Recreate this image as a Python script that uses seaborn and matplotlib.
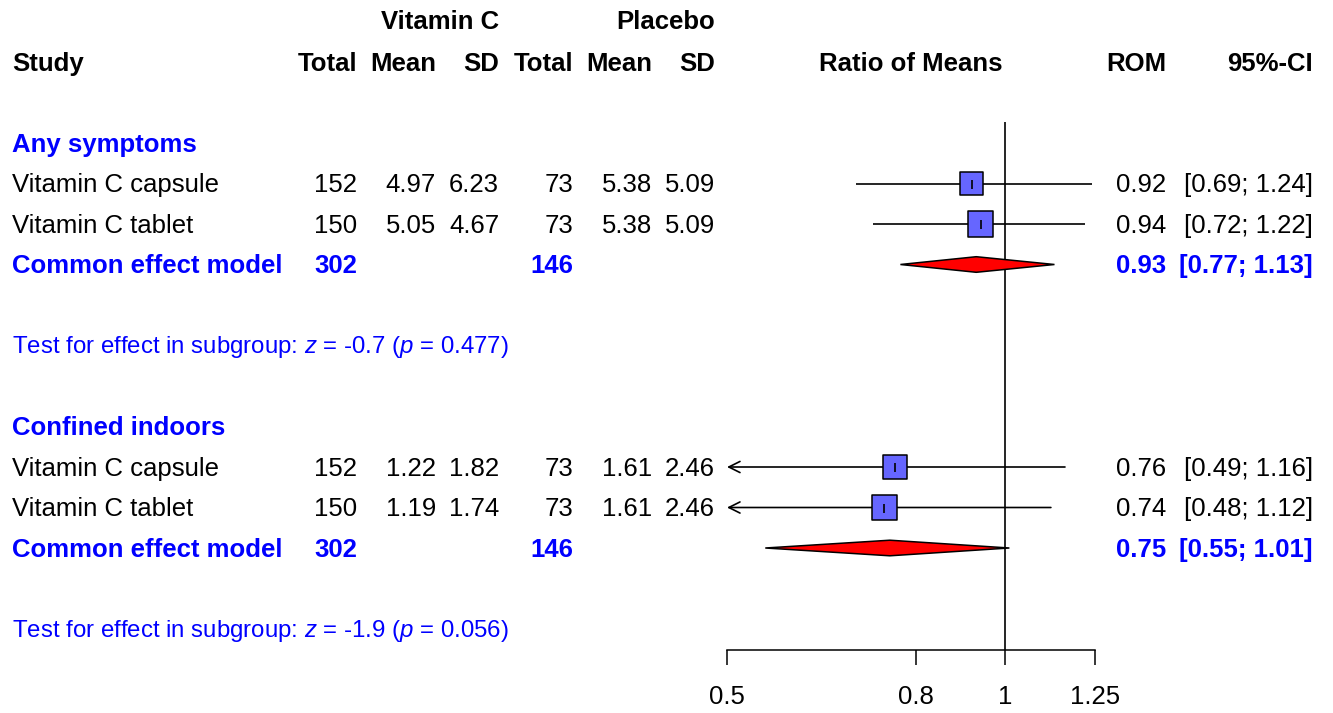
import numpy as np
import pandas as pd
import matplotlib
matplotlib.use("Agg")
import matplotlib.pyplot as plt
import seaborn as sns

# ---------------- data ----------------
groups = ["Any symptoms", "Confined indoors"]
studies = ["Vitamin C capsule", "Vitamin C tablet"]
n_vitc = [[152, 150], [152, 150]]
mean_vitc = [["4.97", "5.05"], ["1.22", "1.19"]]
sd_vitc = [["6.23", "4.67"], ["1.82", "1.74"]]
n_plac = [[73, 73], [73, 73]]
mean_plac = [["5.38", "5.38"], ["1.61", "1.61"]]
sd_plac = [["5.09", "5.09"], ["2.46", "2.46"]]
rom = [[0.92, 0.94], [0.76, 0.74]]
rom_lo = [[0.69, 0.72], [0.49, 0.48]]
rom_hi = [[1.24, 1.22], [1.16, 1.12]]
weights = [[0.46, 0.58], [0.50, 0.54]]
common_n_vitc = [302, 302]
common_n_plac = [146, 146]
common_rom = [0.93, 0.75]
common_lo = [0.77, 0.55]
common_hi = [1.13, 1.01]
test_z = ["-0.7", "-1.9"]
test_p = ["0.477", "0.056"]
x_ticks = [0.5, 0.8, 1, 1.25]
x_tick_labels = ["0.5", "0.8", "1", "1.25"]

# ---------------- style ----------------
sns.set_theme(style="white")
plt.rcParams["font.family"] = ["Liberation Sans", "DejaVu Sans"]
plt.rcParams["mathtext.fontset"] = "custom"
plt.rcParams["mathtext.it"] = "Liberation Sans:italic"
plt.rcParams["mathtext.rm"] = "Liberation Sans"
plt.rcParams["text.color"] = "black"
plt.rcParams["xtick.color"] = "black"
plt.rcParams["xtick.labelcolor"] = "black"

BLUE = "#0000ff"
SQ = "#6666ff"
FS = 18.5
FS_TEST = 17.3

W, H = 1333, 713
ROW0, ROWH = 62.0, 40.5
TXT_SHIFT = 1.8 / ROWH


def row_of_px(py):
    return (py - ROW0) / ROWH


fig = plt.figure(figsize=(W / 100, H / 100), dpi=100)
ax_t = fig.add_axes([0, 0, 1, 1])
ax_t.set_xlim(0, W)
ax_t.set_ylim(row_of_px(H), row_of_px(0))
ax_t.axis("off")

AX_L, AX_R, AX_B = 727, 1095, 650
ax_f = fig.add_axes([AX_L / W, (H - AX_B) / H, (AX_R - AX_L) / W, AX_B / H])
ax_f.set_xscale("log")
ax_f.set_xlim(0.5, 1.25)
ax_f.set_ylim(row_of_px(AX_B), row_of_px(0))
ax_f.patch.set_alpha(0)
for s in ["top", "left", "right"]:
    ax_f.spines[s].set_visible(False)
ax_f.spines["bottom"].set_color("black")
ax_f.spines["bottom"].set_linewidth(1.1)
ax_f.set_xticks(x_ticks)
ax_f.set_xticklabels(x_tick_labels, fontsize=FS, color="black")
ax_f.minorticks_off()
ax_f.tick_params(axis="x", which="major", direction="out", length=11, width=1.1,
                 color="black", pad=14, bottom=True)
ax_f.set_yticks([])
ax_f.grid(False)

# column right edges (px)
C_STUDY = 12
C_NE, C_ME, C_SE = 357, 436, 499
C_NC, C_MC, C_SC = 573, 652, 715
C_ROM, C_CI = 1166, 1313


def txt(x, y, s, ha="right", **kw):
    kw.setdefault("fontsize", FS)
    kw.setdefault("color", "black")
    ax_t.text(x, y + TXT_SHIFT, s, ha=ha, va="center", **kw)


# headers
yh1 = row_of_px(20)
txt(C_SE, yh1, "Vitamin C", fontweight="bold")
txt(C_SC, yh1, "Placebo", fontweight="bold")
txt(C_STUDY, 0, "Study", ha="left", fontweight="bold")
for x, s in [(C_NE, "Total"), (C_ME, "Mean"), (C_SE, "SD"), (C_NC, "Total"),
             (C_MC, "Mean"), (C_SC, "SD"), (C_ROM, "ROM"), (C_CI, "95%-CI")]:
    txt(x, 0, s, fontweight="bold")
txt((AX_L + AX_R) / 2, 0, "Ratio of Means", ha="center", fontweight="bold")

rows_sq = []
for g, gname in enumerate(groups):
    base = 2 + 7 * g
    txt(C_STUDY, base, gname, ha="left", fontweight="bold", color=BLUE)
    for i, st in enumerate(studies):
        r = base + 1 + i
        txt(C_STUDY, r, st, ha="left")
        txt(C_NE, r, str(n_vitc[g][i]))
        txt(C_ME, r, mean_vitc[g][i])
        txt(C_SE, r, sd_vitc[g][i])
        txt(C_NC, r, str(n_plac[g][i]))
        txt(C_MC, r, mean_plac[g][i])
        txt(C_SC, r, sd_plac[g][i])
        txt(C_ROM, r, f"{rom[g][i]:.2f}")
        txt(C_CI, r, f"[{rom_lo[g][i]:.2f}; {rom_hi[g][i]:.2f}]")
        rows_sq.append(dict(row=r, rom=rom[g][i], lo=rom_lo[g][i],
                            hi=rom_hi[g][i], w=weights[g][i]))
    rc = base + 3
    txt(C_STUDY, rc, "Common effect model", ha="left", fontweight="bold", color=BLUE)
    txt(C_NE, rc, str(common_n_vitc[g]), fontweight="bold", color=BLUE)
    txt(C_NC, rc, str(common_n_plac[g]), fontweight="bold", color=BLUE)
    txt(C_ROM, rc, f"{common_rom[g]:.2f}", fontweight="bold", color=BLUE)
    txt(C_CI, rc, f"[{common_lo[g]:.2f}; {common_hi[g]:.2f}]", fontweight="bold", color=BLUE)
    txt(C_STUDY, base + 5,
        f"Test for effect in subgroup: $z$ = {test_z[g]} ($p$ = {test_p[g]})",
        ha="left", color=BLUE, fontsize=FS_TEST)

    # diamond
    hh = 7.8 / ROWH
    ax_f.fill([common_lo[g], common_rom[g], common_hi[g], common_rom[g]],
              [rc, rc - hh, rc, rc + hh], facecolor="red", edgecolor="black",
              linewidth=1.1, zorder=3, clip_on=False)

df = pd.DataFrame(rows_sq)
xmin = 0.5
# reference line
ax_f.vlines(1, row_of_px(122), row_of_px(AX_B), color="black", linewidth=1.2, zorder=2)

# CI lines
for _, d in df.iterrows():
    if d.lo < xmin:
        ax_f.annotate("", xy=(xmin, d.row), xytext=(d.hi, d.row),
                      arrowprops=dict(arrowstyle="->", lw=1.2, color="black",
                                      mutation_scale=20, shrinkA=0, shrinkB=0),
                      zorder=2)
    else:
        ax_f.hlines(d.row, d.lo, d.hi, color="black", linewidth=1.2, zorder=2)

# squares
side_pt = 34 * np.sqrt(df["w"]) * 0.72
df["size"] = side_pt ** 2
sns.scatterplot(data=df, x="rom", y="row", size="size", sizes=(df["size"].min(), df["size"].max()),
                marker="s", color=SQ, edgecolor="black", linewidth=1.1, legend=False,
                ax=ax_f, zorder=4)
ax_f.scatter(df["rom"], df["row"], marker="|", s=(9 * 0.72) ** 2, color="black",
             linewidths=1.2, zorder=5)
ax_f.set_xlabel("")
ax_f.set_ylabel("")
ax_f.set_xlim(0.5, 1.25)
ax_f.set_ylim(row_of_px(AX_B), row_of_px(0))

fig.savefig("out.png", dpi=100)
